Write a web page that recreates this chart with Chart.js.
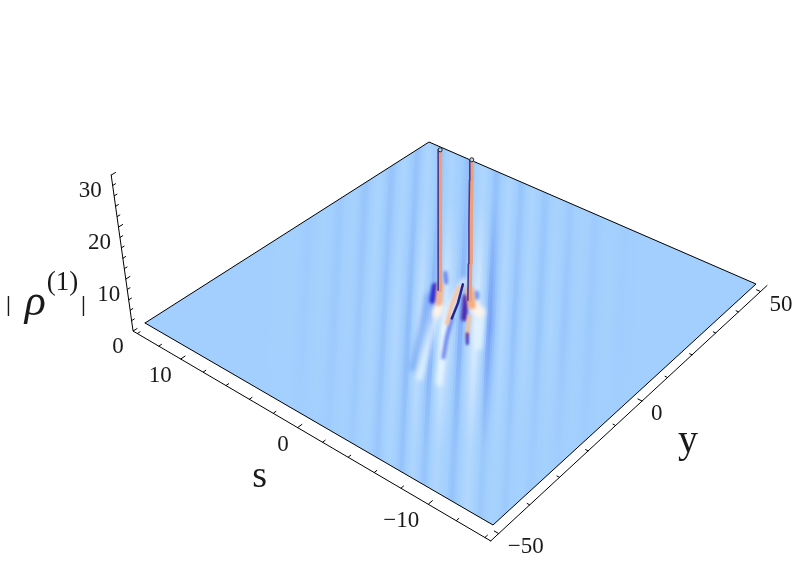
<!DOCTYPE html>
<html>
<head>
<meta charset="utf-8">
<style>
  body { margin: 0; background: #fff; }
  canvas { display: block; }
</style>
<script src="https://cdn.jsdelivr.net/npm/chart.js@4/dist/chart.umd.min.js"></script>
</head>
<body>
<canvas id="plot" width="796" height="564"></canvas>
<script>
// axis ticks and labels
const sTicks = [14, 12, 10, 8, 6, 4, 2, 0, -2, -4, -6, -8, -10, -12, -14];
const yTicks = [-50, -40, -30, -20, -10, 0, 10, 20, 30, 40, 50];
const zTicks = [0, 2, 4, 6, 8, 10, 12, 14, 16, 18, 20, 22, 24, 26, 28, 30];
const sLabels = [10, 0, -10];
const yLabels = [-50, 0, 50];
const zLabels = [0, 10, 20, 30];

// ripples: y where each crest/trough crosses s = 0, and its tone (<0 darker, >0 lighter)
const rippleY = [-110, -63.5, -54.7, -50.2, -45.6, -40.9, -36.8, -33, -29, -24.7, -20.7, -16.3, -12.5, -8.2, -4, 2.2, 7.8, 12.7, 17.7, 22.4, 27.1, 32.4, 37.3, 42.8, 48.3, 53.5, 60.1, 66.9, 76.1, 150];
const toneBack = [0, 0, 0.02, -0.02, 0.03, -0.03, 0.04, -0.06, 0.08, -0.07, 0.08, -0.07, 0.1, -0.06, 0.08, -0.08, 0.12, -0.08, 0.1, -0.06, 0.08, -0.05, 0.06, -0.03, 0.04, -0.02, 0.02, -0.01, 0, 0];
const toneMid = [0, 0, 0.02, -0.02, 0.03, -0.03, 0.04, -0.04, 0.08, -0.07, 0.14, -0.12, 0.3, -0.2, 0.5, -0.2, 0.55, -0.26, 0.16, -0.08, 0.12, -0.06, 0.08, -0.05, 0.04, -0.03, 0.02, -0.01, 0, 0];
const toneFront = [0, 0, 0, 0, 0, -0.01, 0.02, -0.02, 0.05, -0.05, 0.08, -0.07, 0.1, -0.07, 0.12, -0.07, 0.14, -0.04, 0.05, -0.03, 0.03, -0.02, 0.02, -0.01, 0.01, -0.01, 0, 0, 0, 0];

// the two spikes, z goes from the sheet to the top
const spikeZ = [1, 8, 16, 24, 28];
const spikeOneS = [1.67, 1.67, 1.67, 1.67, 1.67];
const spikeOneY = [1.5, 1.5, 1.5, 1.5, 1.5];
const spikeTwoS = [-0.5, -0.5, -0.5, -0.5, -0.5];
const spikeTwoY = [2.9, 2.9, 2.9, 2.9, 2.9];

// structure around the spikes, read as [s, y] tracks on the sheet
const glowLeftS = [0.49, -1.16, -2.96];
const glowLeftY = [-4.8, -14.6, -25.4];
const troughLeftS = [1.93, 0.18, -2.08];
const troughLeftY = [-1.7, -11.2, -24];
const glowRightS = [-1.77, -3.9];
const glowRightY = [1.7, -9.1];
const holeOneS = [2.18, 1.35];
const holeOneY = [1.9, -2.5];
const holeUpperS = [2.61, 1.9];
const holeUpperY = [7.5, 4.7];
const holeTwoS = [-0.38, -0.65];
const holeTwoY = [6, 4.8];
const holeThreeS = [-0.1, -1.4];
const holeThreeY = [3.2, -3.2];
const footOneS = [2, 0.92];
const footOneY = [2.9, -2.2];
const footOnePaleS = [0.58, 0.28];
const footOnePaleY = [-3.6, -5.7];
const footTwoS = [0.17, -0.93];
const footTwoY = [5.8, 1.7];
const footTwoPaleS = [-1.22, -1.75];
const footTwoPaleY = [1.6, 0.7];
const ridgePaleS = [1.13, 0.07, -1.25, -4.2];
const ridgePaleY = [7.9, -1.2, -9.5, -24.2];
const ridgeS = [0.92, 0.07, -0.88];
const ridgeY = [5.1, -1.2, -7.1];
const trenchS = [-0.8, -1.81, -2.86];
const trenchY = [-5, -11.2, -16.9];
const trenchDeepS = [0.92, -0.1, -0.8];
const trenchDeepY = [6.6, 0.29, -5];
const tailS = [-1.52, -2.68];
const tailY = [-1.9, -7.7];
const tailDarkS = [-2.55, -3.15];
const tailDarkY = [-7.2, -9.8];

// camera: where the sheet corners land
const corner = { left: [145, 323], bottom: [493, 525], right: [756, 284], top: [429, 142] };
const sMax = 14, yMax = 50, sheetZ = 1;
const axisS = -14.4, axisSBack = 14.4, axisY = -52.5, axisYFar = 53;

const cam = (function () {
  const [x0, y0] = corner.left, [x1, y1] = corner.bottom, [x2, y2] = corner.right, [x3, y3] = corner.top;
  const dx1 = x1 - x2, dx2 = x3 - x2, sx = x0 - x1 + x2 - x3;
  const dy1 = y1 - y2, dy2 = y3 - y2, sy = y0 - y1 + y2 - y3;
  const den = dx1 * dy2 - dx2 * dy1;
  const g = (sx * dy2 - dx2 * sy) / den, h = (dx1 * sy - sx * dy1) / den;
  return { a: x1 - x0 + g * x1, b: x3 - x0 + h * x3, c: x0, d: y1 - y0 + g * y1, e: y3 - y0 + h * y3, f: y0, g, h };
})();

function project(s, y, z) {
  const u = (sMax - s) / (2 * sMax), v = (y + yMax) / (2 * yMax);
  const w = cam.g * u + cam.h * v + 1;
  const px = (cam.a * u + cam.b * v + cam.c) / w;
  const py = (cam.d * u + cam.e * v + cam.f) / w;
  const dz = z - sheetZ;
  return { x: px + (px - 440) * 0.00237 * dz, y: py - 5.2 * dz };
}

function track(sArr, yArr, z) {
  return sArr.map((s, i) => project(s, yArr[i], z === undefined ? sheetZ : (Array.isArray(z) ? z[i] : z)));
}

const sheet = [project(sMax, -yMax, sheetZ), project(sMax, yMax, sheetZ), project(-sMax, yMax, sheetZ), project(-sMax, -yMax, sheetZ)];

function clipToSheet(poly) {
  let out = poly;
  sheet.forEach((a, i) => {
    const b = sheet[(i + 1) % 4];
    const side = p => (b.x - a.x) * (p.y - a.y) - (b.y - a.y) * (p.x - a.x);
    const next = [];
    out.forEach((p, j) => {
      const q = out[(j + 1) % out.length];
      const sp = side(p), sq = side(q);
      if (sp >= 0) next.push(p);
      if ((sp >= 0) !== (sq >= 0)) {
        const t = sp / (sp - sq);
        next.push({ x: p.x + (q.x - p.x) * t, y: p.y + (q.y - p.y) * t });
      }
    });
    out = next;
  });
  return out;
}

function toneColor(t) {
  const base = [162, 207, 253], light = [250, 253, 255], dark = [48, 84, 232];
  const to = t > 0 ? light : dark;
  const k = Math.min(1, t > 0 ? t / 0.75 : -t / 0.6);
  return 'rgb(' + base.map((b, i) => Math.round(b + (to[i] - b) * k)).join(',') + ')';
}

function lerp(a, b, k) { return a + (b - a) * k; }

const plotCtx = document.getElementById('plot').getContext('2d');
const datasets = [];

// sheet, drawn as thin strips running up the view
const lean = -0.05;
for (let i = 0; i < rippleY.length - 1; i++) {
  const xa = project(0, rippleY[i], sheetZ).x, xb = project(0, rippleY[i + 1], sheetZ).x;
  const n = Math.max(1, Math.ceil((xb - xa) / 2.5));
  for (let j = 0; j < n; j++) {
    const k = (j + 0.5) / n;
    const x0 = lerp(xa, xb, j / n), x1 = lerp(xa, xb, (j + 1) / n) + 1;
    const rowTop = 120, rowBot = 545;
    const poly = clipToSheet([
      { x: x0 + lean * (rowTop - 303), y: rowTop },
      { x: x1 + lean * (rowTop - 303), y: rowTop },
      { x: x1 + lean * (rowBot - 303), y: rowBot },
      { x: x0 + lean * (rowBot - 303), y: rowBot }
    ]);
    if (poly.length < 3) continue;
    const shade = plotCtx.createLinearGradient(0, 200, 0, 450);
    shade.addColorStop(0, toneColor(lerp(toneBack[i], toneBack[i + 1], k)));
    shade.addColorStop(0.5, toneColor(lerp(toneMid[i], toneMid[i + 1], k)));
    shade.addColorStop(1, toneColor(lerp(toneFront[i], toneFront[i + 1], k)));
    datasets.push({
      data: poly,
      showLine: true,
      fill: 'shape',
      borderWidth: 0,
      borderColor: 'transparent',
      pointRadius: 0,
      backgroundColor: shade
    });
  }
}

function stroke(data, color, width, blur) {
  datasets.push({
    data, showLine: true, fill: false, borderColor: color, borderWidth: width,
    borderCapStyle: 'round', borderJoinStyle: 'round', pointRadius: 0, blur: blur || 0
  });
}

stroke(track(troughLeftS, troughLeftY), 'rgba(90,140,240,0.55)', 6, 2.5);
stroke(track(glowLeftS, glowLeftY), 'rgba(240,250,255,0.8)', 6, 2.5);
stroke(track(glowRightS, glowRightY), 'rgba(235,248,255,0.8)', 7, 2.5);
stroke(track(ridgePaleS, ridgePaleY), 'rgba(245,252,255,0.8)', 6, 2.5);
stroke(track(trenchS, trenchY), 'rgba(70,100,235,0.75)', 4, 1.6);
stroke(track(holeOneS, holeOneY), '#2c2fd8', 7, 1.8);
stroke(track(holeUpperS, holeUpperY), 'rgba(80,105,240,0.8)', 4, 1.6);
stroke(track(holeTwoS, holeTwoY), 'rgba(90,130,240,0.8)', 5, 1.8);
stroke(track(holeThreeS, holeThreeY), '#4a2ab0', 6, 1.6);
stroke(track(footOnePaleS, footOnePaleY), '#fff3e8', 9, 2);
stroke(track(footOneS, footOneY), '#f7b390', 7, 1.6);
stroke(track(footTwoPaleS, footTwoPaleY), '#fff3ea', 10, 2);
stroke(track(footTwoS, footTwoY), '#f7ad80', 8, 1.6);
stroke(track(ridgeS, ridgeY), '#f8c4a4', 4, 1);
stroke(track(trenchDeepS, trenchDeepY), '#23258f', 2.5, 0.7);
stroke(track(tailS, tailY), '#f3c09a', 4, 1.2);
stroke(track(tailDarkS, tailDarkY), '#4c38c0', 3, 1);

// sheet outline
const outline = sheet.concat([sheet[0]]);
stroke(outline, '#000', 1);

// spikes
[[spikeOneS, spikeOneY], [spikeTwoS, spikeTwoY]].forEach(([ss, ys]) => {
  const body = track(ss, ys, spikeZ);
  stroke(body, '#ee9f7c', 4);
  stroke(body.map(p => ({ x: p.x - 2, y: p.y })), '#4b3a8e', 1.6);
  datasets.push({
    data: [body[body.length - 1]], showLine: false, pointStyle: 'circle', pointRadius: 2,
    pointBackgroundColor: '#b9d7fb', pointBorderColor: '#222', pointBorderWidth: 1
  });
});

// axes
const sEdge = [project(axisSBack, axisY, 0), project(axisS, axisY, 0)];
const yEdge = [project(axisS, axisY, 0), project(axisS, axisYFar, 0)];
const zEdge = [project(axisSBack, axisY, 0), project(axisSBack, axisY, 30)];
stroke(sEdge, '#000', 1);
stroke(yEdge, '#000', 1);
stroke(zEdge, '#000', 1);
sTicks.forEach(s => stroke([project(s, axisY, 0), project(s, axisY + (s % 10 ? 0.8 : 1.3), 0)], '#000', 1));
yTicks.forEach(y => stroke([project(axisS, y, 0), project(axisS + (y % 50 ? 0.18 : 0.3), y, 0)], '#000', 1));
zTicks.forEach(z => stroke([project(axisSBack, axisY, z), project(axisSBack, axisY + (z % 10 ? 0.8 : 1.2), z)], '#000', 1));

// chart.js paints the last dataset first
datasets.reverse();

const minus = '\u2212';
const fmt = v => (v < 0 ? minus + Math.abs(v) : String(v));

const softLines = {
  id: 'softLines',
  beforeDatasetsDraw(chart) { chart.ctx.filter = 'none'; },
  afterDatasetDraw(chart, args) {
    const next = chart.data.datasets[args.index - 1];
    chart.ctx.filter = next && next.blur ? 'blur(' + next.blur + 'px)' : 'none';
  }
};

const axisText = {
  id: 'axisText',
  afterDatasetsDraw(chart) {
    const { ctx, scales } = chart;
    ctx.save();
    ctx.filter = 'none';
    ctx.fillStyle = '#1a1a1a';
    ctx.textBaseline = 'middle';
    const put = (txt, p, dx, dy, font, align) => {
      ctx.font = font;
      ctx.textAlign = align || 'center';
      ctx.fillText(txt, scales.x.getPixelForValue(p.x) + dx, scales.y.getPixelForValue(p.y) + dy);
    };
    const tickFont = '23px "Liberation Serif"';
    zLabels.forEach(z => put(fmt(z), project(axisSBack, axisY, z), -15 - 0.2 * z, 16, tickFont));
    sLabels.forEach(s => put(fmt(s), project(s, axisY, 0), -9, 17, tickFont, 'right'));
    yLabels.forEach(y => put(fmt(y), project(axisS, y, 0), 9, 13, tickFont, 'left'));
    put('s', project(0, axisY, 0), -38, 49, '38px "Liberation Serif"');
    put('y', project(axisS, 0, 0), 46, 40, '40px "Liberation Serif"');
    const zRef = project(axisSBack, axisY, 5);
    put('|', zRef, -121, 1, 'bold 20px "Liberation Serif"');
    put('\u03c1', zRef, -94, -2, 'italic 44px "Liberation Serif"');
    put('(1)', zRef, -67, -22, '27px "Liberation Serif"');
    put('|', zRef, -46, 1, 'bold 20px "Liberation Serif"');
    ctx.restore();
  }
};

new Chart(document.getElementById('plot'), {
  type: 'scatter',
  data: { datasets },
  options: {
    responsive: false,
    animation: false,
    events: [],
    layout: { padding: 0, autoPadding: false },
    plugins: { legend: { display: false }, tooltip: { enabled: false } },
    scales: {
      x: { type: 'linear', min: 0, max: 796, display: false },
      y: { type: 'linear', min: 0, max: 564, reverse: true, display: false }
    }
  },
  plugins: [softLines, axisText]
});
</script>
</body>
</html>
